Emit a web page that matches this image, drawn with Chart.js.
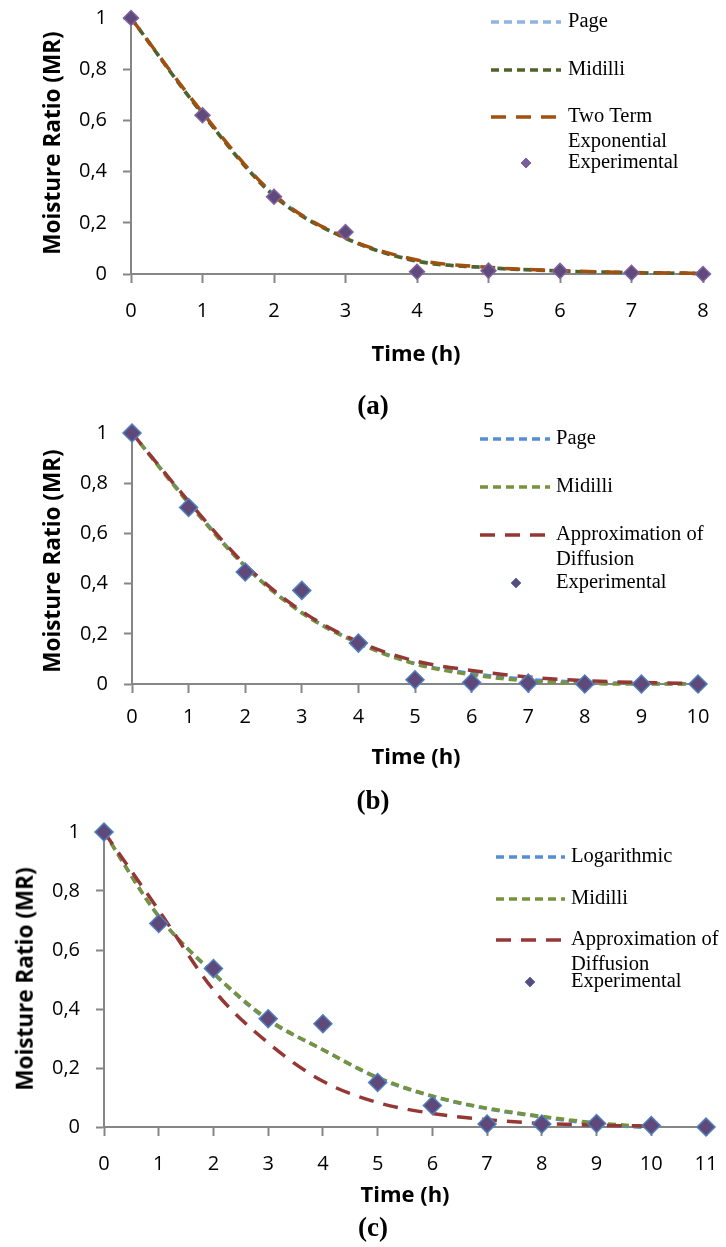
<!DOCTYPE html>
<html>
<head>
<meta charset="utf-8">
<script src="https://cdn.jsdelivr.net/npm/chart.js@4.4.1/dist/chart.umd.min.js"></script>
<style>
  html, body { margin: 0; padding: 0; background: #fff; }
  body { width: 726px; height: 1247px; position: relative; overflow: hidden; }
  canvas { position: absolute; left: 0; }
  .ytitle, .xtitle { position: absolute; font-family: "Open Sans", sans-serif; font-weight: bold; font-size: 22.5px; color: #000; white-space: nowrap; line-height: 1; }
  .xtitle { font-size: 22px; }
  .ytitle { transform: translate(-50%, -50%) rotate(-90deg); }
  .xtitle { transform: translate(-50%, -50%); }
  .cap { position: absolute; font-family: "Liberation Serif", "Times New Roman", serif; font-weight: bold; font-size: 27px; transform: translate(-50%, -50%); line-height: 1; }
</style>
</head>
<body>
<canvas id="ca" width="726" height="380" style="top:0px"></canvas>
<canvas id="cb" width="726" height="420" style="top:380px"></canvas>
<canvas id="cc" width="726" height="447" style="top:800px"></canvas>

<div class="ytitle" style="left:52px; top:143px">Moisture Ratio (MR)</div>
<div class="xtitle" style="left:416px; top:352px">Time (h)</div>
<div class="cap" style="left:373px; top:405px">(a)</div>

<div class="ytitle" style="left:52px; top:561px">Moisture Ratio (MR)</div>
<div class="xtitle" style="left:416px; top:755px">Time (h)</div>
<div class="cap" style="left:373px; top:800px">(b)</div>

<div class="ytitle" style="left:25px; top:979px">Moisture Ratio (MR)</div>
<div class="xtitle" style="left:405px; top:1193px">Time (h)</div>
<div class="cap" style="left:373px; top:1227px">(c)</div>

<script>
// ---------------- DATA ----------------
const yTickLabels = ['0', '0,2', '0,4', '0,6', '0,8', '1'];

// Panel (a)
const timeA = [0, 1, 2, 3, 4, 5, 6, 7, 8];
const expA      = [1, 0.62, 0.302, 0.164, 0.009, 0.013, 0.012, 0.005, 0.0];
const pageA     = [1, 0.625, 0.31, 0.14, 0.052, 0.024, 0.011, 0.005, 0.002];
const midilliA  = [1, 0.625, 0.305, 0.14, 0.05, 0.025, 0.012, 0.005, 0.002];
const twoTermA  = [1, 0.63, 0.31, 0.142, 0.055, 0.026, 0.013, 0.006, 0.003];
const namesA = ['Page', 'Midilli', ['Two Term', 'Exponential'], 'Experimental'];

// Panel (b)
const timeB = [0, 1, 2, 3, 4, 5, 6, 7, 8, 9, 10];
const expB      = [1, 0.703, 0.446, 0.373, 0.163, 0.017, 0.006, 0.004, 0.0, 0.0, 0.0];
const pageB     = [1, 0.725, 0.47, 0.285, 0.165, 0.082, 0.042, 0.018, 0.007, 0.002, 0.001];
const midilliB  = [1, 0.72, 0.468, 0.283, 0.162, 0.08, 0.037, 0.012, 0.002, 0.0, 0.0];
const approxB   = [1, 0.728, 0.475, 0.29, 0.168, 0.092, 0.054, 0.028, 0.013, 0.006, 0.002];
const namesB = ['Page', 'Midilli', ['Approximation of', 'Diffusion'], 'Experimental'];

// Panel (c)
const timeC = [0, 1, 2, 3, 4, 5, 6, 7, 8, 9, 10, 11];
const timeCModel = [0, 1, 2, 3, 4, 5, 6, 7, 8, 9, 10];
const expC      = [1, 0.69, 0.537, 0.367, 0.35, 0.151, 0.073, 0.01, 0.01, 0.012, 0.005, 0.0];
const logC      = [1, 0.714, 0.52, 0.362, 0.262, 0.166, 0.104, 0.062, 0.034, 0.01, -0.003];
const midilliC  = [1, 0.714, 0.522, 0.365, 0.262, 0.168, 0.105, 0.064, 0.036, 0.014, 0.0];
const approxC   = [1, 0.735, 0.465, 0.285, 0.155, 0.083, 0.046, 0.025, 0.012, 0.006, 0.003];
const namesC = ['Logarithmic', 'Midilli', ['Approximation of', 'Diffusion'], 'Experimental'];

// ---------------- HELPERS ----------------
const pts = (xs, ys) => ys.map((y, i) => ({ x: xs[i], y: y }));
const AXIS = '#868686';

const legendPlugin = {
  id: 'sideLegend',
  afterDraw(chart, args, opts) {
    const ctx = chart.ctx;
    ctx.save();
    ctx.font = opts.font;
    ctx.fillStyle = '#000';
    ctx.textBaseline = 'middle';
    ctx.textAlign = 'left';
    opts.items.forEach(item => {
      const ds = chart.data.datasets[item.index];
      const lines = Array.isArray(item.text) ? item.text : [item.text];
      if (ds.showLine) {
        ctx.save();
        ctx.strokeStyle = ds.borderColor;
        ctx.lineWidth = ds.borderWidth;
        ctx.setLineDash(ds.borderDash || []);
        ctx.lineCap = 'butt';
        ctx.beginPath();
        ctx.moveTo(opts.lineX1, item.y[0]);
        ctx.lineTo(opts.lineX2, item.y[0]);
        ctx.stroke();
        ctx.restore();
      } else {
        const r = opts.markerRadius;
        ctx.save();
        ctx.fillStyle = opts.markerColor || ds.pointBackgroundColor;
        ctx.strokeStyle = ds.pointBorderColor;
        ctx.lineWidth = 1;
        ctx.beginPath();
        ctx.moveTo(opts.markerX, item.y[0] - r);
        ctx.lineTo(opts.markerX + r, item.y[0]);
        ctx.lineTo(opts.markerX, item.y[0] + r);
        ctx.lineTo(opts.markerX - r, item.y[0]);
        ctx.closePath();
        ctx.fill();
        ctx.stroke();
        ctx.restore();
      }
      lines.forEach((t, k) => ctx.fillText(t, opts.textX, item.y[k]));
    });
    ctx.restore();
  }
};

function makeChart(id, cfg) {
  const canvas = document.getElementById(id);
  const H = canvas.height;
  return new Chart(canvas, {
    type: 'scatter',
    data: { datasets: cfg.datasets },
    options: {
      responsive: false,
      animation: false,
      devicePixelRatio: 1,
      events: [],
      layout: { padding: { left: 0, top: cfg.top, right: 726 - cfg.right, bottom: 0 } },
      plugins: {
        legend: { display: false },
        tooltip: { enabled: false },
        sideLegend: cfg.legend
      },
      scales: {
        x: {
          type: 'linear',
          min: 0, max: cfg.xMax,
          afterFit: s => { s.height = H - cfg.bottom; s.paddingLeft = 0; s.paddingRight = 0; },
          border: { display: true, color: AXIS, width: 2 },
          grid: { display: true, drawOnChartArea: false, drawTicks: true, tickLength: 9, tickWidth: 2, tickColor: AXIS, color: AXIS },
          ticks: { stepSize: 1, color: '#000', padding: cfg.xPad, font: { family: 'Open Sans', size: 20 }, maxRotation: 0, autoSkip: false }
        },
        y: {
          type: 'linear',
          min: 0, max: 1,
          afterFit: s => { s.width = cfg.left; s.paddingTop = 0; s.paddingBottom = 0; },
          border: { display: true, color: AXIS, width: 2 },
          grid: { display: true, drawOnChartArea: false, drawTicks: true, tickLength: 8, tickWidth: 2, tickColor: AXIS, color: AXIS },
          ticks: { stepSize: 0.2, color: '#000', padding: 16, font: { family: 'Open Sans', size: 20 },
                   callback: (v) => yTickLabels[Math.round(v * 5)] }
        }
      }
    },
    plugins: [legendPlugin]
  });
}

function lineDS(label, xs, ys, color, dash, order) {
  return { label, data: pts(xs, ys), showLine: true, borderColor: color, backgroundColor: color,
           borderWidth: 3.5, borderDash: dash, pointRadius: 0, cubicInterpolationMode: 'monotone',
           clip: false, order };
}
function expDS(label, xs, ys, fill, border, r) {
  return { label, data: pts(xs, ys), showLine: false, pointStyle: 'rectRot', pointRadius: r,
           pointBackgroundColor: fill, pointBorderColor: border, pointBorderWidth: 1.5,
           backgroundColor: fill, borderColor: border, clip: false, order: 0 };
}

const SHORT = [8, 5];
const LONG = [15, 10];
const LEGEND_FONT = '20.5px "Liberation Serif", "Times New Roman", serif';

// (a)
makeChart('ca', {
  top: 18, bottom: 274, left: 131, right: 703, xMax: 8, xPad: 16,
  datasets: [
    lineDS(namesA[0], timeA, pageA, '#8DB4E2', SHORT, 3),
    lineDS(namesA[1], timeA, midilliA, '#4F6228', SHORT, 2),
    lineDS(namesA[2].join(' '), timeA, twoTermA, '#A0500F', LONG, 1),
    expDS(namesA[3], timeA, expA, '#604A7B', '#8064A2', 7.5)
  ],
  legend: {
    font: LEGEND_FONT, lineX1: 491, lineX2: 561, textX: 568, markerX: 526, markerRadius: 5, markerColor: '#7A5FA0',
    items: [
      { index: 0, text: namesA[0], y: [22] },
      { index: 1, text: namesA[1], y: [70] },
      { index: 2, text: namesA[2], y: [117, 142] },
      { index: 3, text: namesA[3], y: [163] }
    ]
  }
});

// (b)
makeChart('cb', {
  top: 53, bottom: 304, left: 132, right: 698, xMax: 10, xPad: 12,
  datasets: [
    lineDS(namesB[0], timeB, pageB, '#558ED5', SHORT, 3),
    lineDS(namesB[1], timeB, midilliB, '#77933C', SHORT, 2),
    lineDS(namesB[2].join(' '), timeB, approxB, '#953735', LONG, 1),
    expDS(namesB[3], timeB, expB, '#5F497A', '#4F81BD', 9)
  ],
  legend: {
    font: LEGEND_FONT, lineX1: 480, lineX2: 550, textX: 556, markerX: 516, markerRadius: 5,
    items: [
      { index: 0, text: namesB[0], y: [59] },
      { index: 1, text: namesB[1], y: [107] },
      { index: 2, text: namesB[2], y: [155, 180] },
      { index: 3, text: namesB[3], y: [203] }
    ]
  }
});

// (c)
makeChart('cc', {
  top: 32, bottom: 327, left: 104, right: 706, xMax: 11, xPad: 16,
  datasets: [
    lineDS(namesC[0], timeCModel, logC, '#558ED5', SHORT, 3),
    lineDS(namesC[1], timeCModel, midilliC, '#77933C', SHORT, 2),
    lineDS(namesC[2].join(' '), timeCModel, approxC, '#953735', LONG, 1),
    expDS(namesC[3], timeC, expC, '#5F497A', '#4F81BD', 9)
  ],
  legend: {
    font: LEGEND_FONT, lineX1: 496, lineX2: 565, textX: 571, markerX: 530, markerRadius: 5,
    items: [
      { index: 0, text: namesC[0], y: [57] },
      { index: 1, text: namesC[1], y: [99] },
      { index: 2, text: namesC[2], y: [140, 165] },
      { index: 3, text: namesC[3], y: [182] }
    ]
  }
});
</script>
</body>
</html>
